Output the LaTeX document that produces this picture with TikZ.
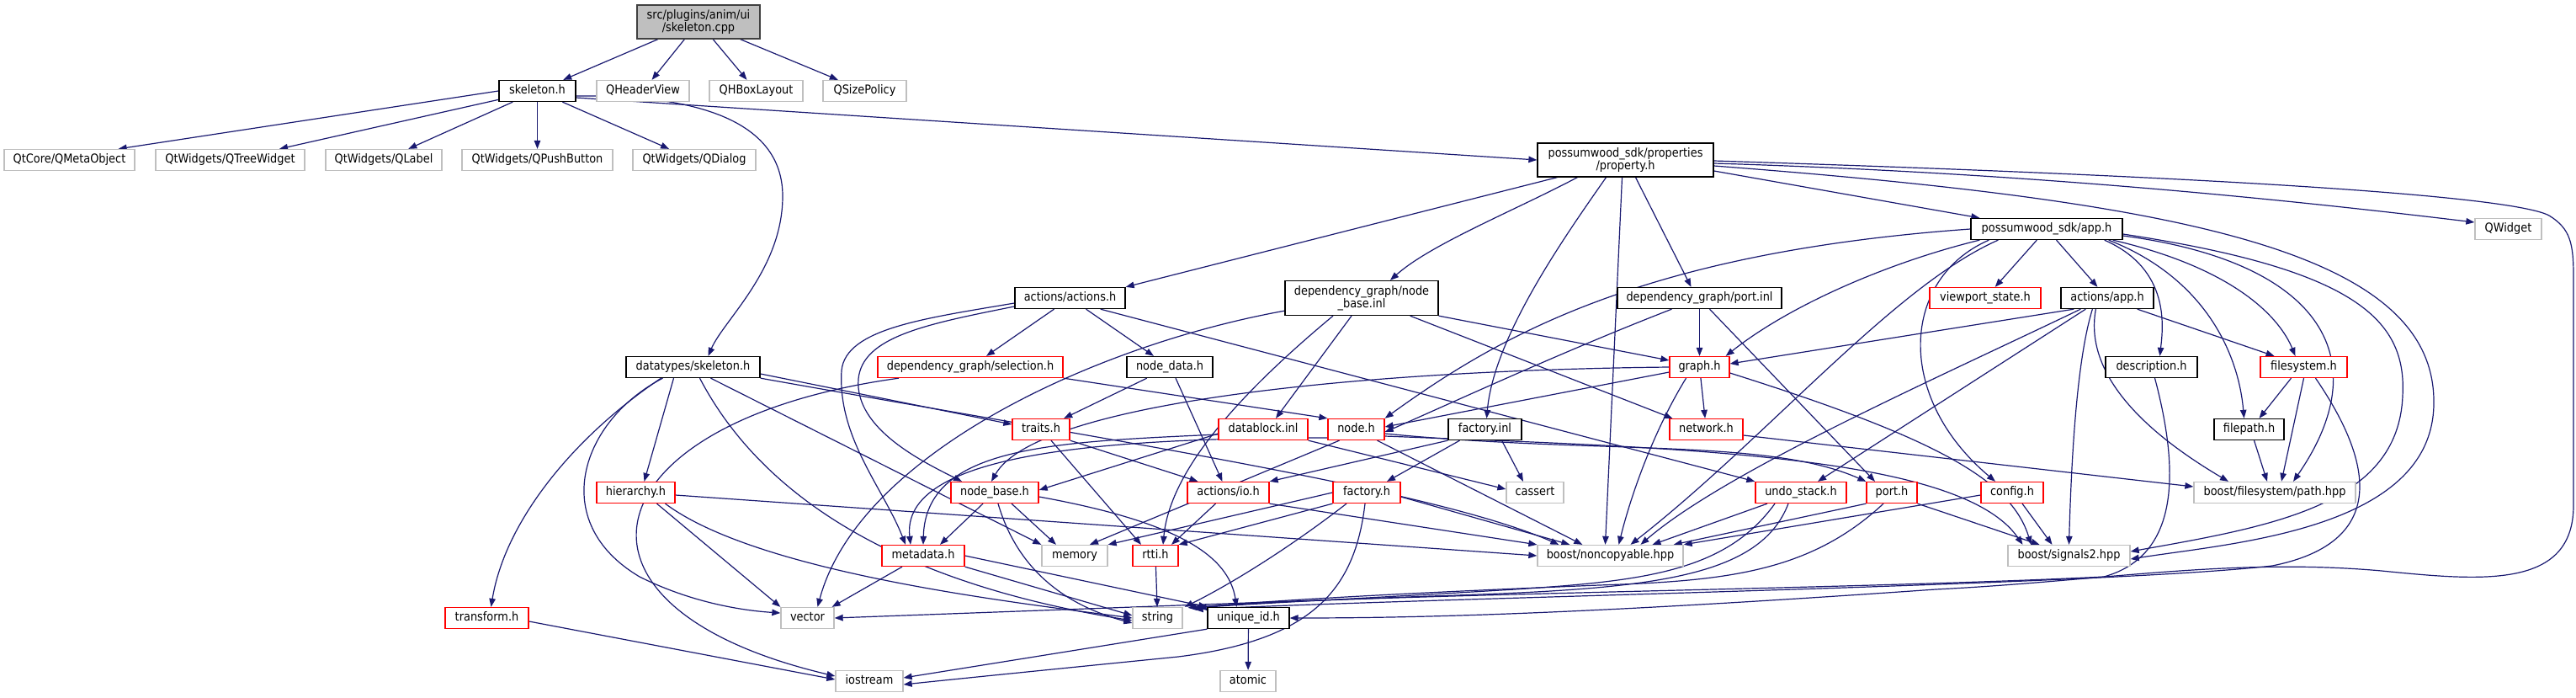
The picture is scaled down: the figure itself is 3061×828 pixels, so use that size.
\documentclass[tikz,border=0pt]{standalone}
\usepackage{fontspec}
\newfontfamily\dgfam{DejaVu Sans}[FakeStretch=0.89]
\newcommand\dgfont{\dgfam\fontsize{14.5}{15.5}\selectfont}
\usetikzlibrary{arrows.meta}
\pgfdeclarelayer{background}
\pgfsetlayers{background,main}
\definecolor{edgec}{HTML}{191970}
\definecolor{extc}{HTML}{BFBFBF}
\definecolor{redc}{HTML}{FF0000}
\definecolor{rootfill}{HTML}{BFBFBF}
\definecolor{rootc}{HTML}{404040}
\begin{document}
\begin{tikzpicture}[x=1pt,y=-1pt,
  box/.style={draw, line width=1.3pt, fill=white, inner sep=0pt, minimum height=25pt, text height=10.5pt, text depth=3.5pt, font=\dgfont},
  tbox/.style={draw, line width=1.3pt, fill=white, inner sep=0pt, minimum height=40pt, align=center, font=\dgfont},
  blk/.style={box, draw=black},
  trunc/.style={box, draw=redc},
  ext/.style={box, draw=extc},
  dep/.style={draw=edgec, line width=1.2pt, -{Triangle[length=10pt,width=7.5pt]}}]
\useasboundingbox (0,0) rectangle (3061,828);
% row 0
\node[tbox, draw=rootc, fill=rootfill, minimum width=146pt] (cpp) at (830,26) {src/plugins/anim/ui\\/skeleton.cpp};
% row 1
\node[blk, minimum width=91pt] (skelh) at (638.5,108) {skeleton.h};
\node[ext, minimum width=110pt] (qheader) at (764,108) {QHeaderView};
\node[ext, minimum width=111pt] (qhbox) at (898.5,108) {QHBoxLayout};
\node[ext, minimum width=99pt] (qsize) at (1027.5,108) {QSizePolicy};
% row 2
\node[ext, minimum width=155pt] (qmeta) at (82.5,190) {QtCore/QMetaObject};
\node[ext, minimum width=177pt] (qtree) at (273.5,190) {QtWidgets/QTreeWidget};
\node[ext, minimum width=138pt] (qlabel) at (456,190) {QtWidgets/QLabel};
\node[ext, minimum width=179pt] (qpush) at (638.5,190) {QtWidgets/QPushButton};
\node[ext, minimum width=146pt] (qdialog) at (825,190) {QtWidgets/QDialog};
\node[tbox, draw=black, minimum width=209pt] (property) at (1931.5,190) {possumwood\_sdk/properties\\/property.h};
% row 3
\node[blk, minimum width=180pt] (apph) at (2432,272) {possumwood\_sdk/app.h};
\node[ext, minimum width=79pt] (qwidget) at (2980.5,272) {QWidget};
% row 4
\node[blk, minimum width=131pt] (actions) at (1271.5,354) {actions/actions.h};
\node[tbox, draw=black, minimum width=182pt, minimum height=41pt] (nbinl) at (1618,354) {dependency\_graph/node\\\_base.inl};
\node[blk, minimum width=195pt] (portinl) at (2019.5,354) {dependency\_graph/port.inl};
\node[trunc, minimum width=132pt] (viewport) at (2359,354) {viewport\_state.h};
\node[blk, minimum width=110pt] (actapp) at (2504,354) {actions/app.h};
% row 5
\node[blk, minimum width=159pt] (dtskel) at (823.5,436) {datatypes/skeleton.h};
\node[trunc, minimum width=220pt] (selection) at (1153,436) {dependency\_graph/selection.h};
\node[blk, minimum width=102pt] (nodedata) at (1390,436) {node\_data.h};
\node[trunc, minimum width=71pt] (graph) at (2019.5,436) {graph.h};
\node[blk, minimum width=109pt] (description) at (2556.5,436) {description.h};
\node[trunc, minimum width=103pt] (filesystem) at (2737.5,436) {filesystem.h};
% row 6
\node[trunc, minimum width=68pt] (traits) at (1237,510) {traits.h};
\node[trunc, minimum width=106pt] (datablock) at (1501,510) {datablock.inl};
\node[trunc, minimum width=67pt] (node) at (1611.5,510) {node.h};
\node[blk, minimum width=87pt] (factinl) at (1764.5,510) {factory.inl};
\node[trunc, minimum width=87pt] (network) at (2027.5,510) {network.h};
\node[blk, minimum width=83pt] (filepath) at (2672.5,510) {filepath.h};
% row 7
\node[trunc, minimum width=93pt] (hierarchy) at (755.5,585) {hierarchy.h};
\node[trunc, minimum width=104pt] (nodebase) at (1182,585) {node\_base.h};
\node[trunc, minimum width=97pt] (io) at (1459.5,585) {actions/io.h};
\node[trunc, minimum width=80pt] (facth) at (1624,585) {factory.h};
\node[ext, minimum width=68pt] (cassert) at (1824,585) {cassert};
\node[trunc, minimum width=108pt] (undo) at (2140,585) {undo\_stack.h};
\node[trunc, minimum width=60pt] (port) at (2248,585) {port.h};
\node[trunc, minimum width=74pt] (config) at (2391,585) {config.h};
\node[ext, minimum width=192pt] (path) at (2703,585) {boost/filesystem/path.hpp};
% row 8
\node[trunc, minimum width=98pt] (metadata) at (1097,660) {metadata.h};
\node[ext, minimum width=78pt] (memory) at (1277,660) {memory};
\node[trunc, minimum width=54pt] (rtti) at (1373,660) {rtti.h};
\node[ext, minimum width=173pt] (noncopy) at (1913.5,660) {boost/noncopyable.hpp};
\node[ext, minimum width=145pt] (signals) at (2458.5,660) {boost/signals2.hpp};
% row 9
\node[trunc, minimum width=99pt] (transform) at (578.5,734) {transform.h};
\node[ext, minimum width=63pt] (vector) at (959.5,734) {vector};
\node[ext, minimum width=59pt] (string) at (1375.5,734) {string};
\node[blk, minimum width=97pt] (uid) at (1483.5,734) {unique\_id.h};
% row 10
\node[ext, minimum width=80pt] (iostream) at (1033,809) {iostream};
\node[ext, minimum width=66pt] (atomic) at (1483,809) {atomic};

\begin{pgfonlayer}{background}
\draw[dep] (cpp) -- (skelh);
\draw[dep] (cpp) -- (qheader);
\draw[dep] (cpp) -- (qhbox);
\draw[dep] (cpp) -- (qsize);
\draw[dep] (skelh.west) -- ([xshift=-20pt]qmeta.north east);
\draw[dep] (skelh) -- (qtree);
\draw[dep] (skelh) -- (qlabel);
\draw[dep] (skelh) -- (qpush);
\draw[dep] (skelh) -- (qdialog);
\draw[dep] ([yshift=-8pt]skelh.east) -- (property.west);
\draw[dep] ([yshift=-6pt]skelh.east) .. controls (820,112) and (930,140) .. (930,233) .. controls (930,320) and (860,380) .. ([xshift=18pt]dtskel.north);
% property.h
\draw[dep] ([xshift=24pt]property.south west) -- (actions.north east);
\draw[dep] ([xshift=48pt]property.south west) .. controls (1800,250) and (1700,290) .. ([xshift=34pt]nbinl.north);
\draw[dep] ([xshift=-23pt]property.south) .. controls (1860,280) and (1775,400) .. ([xshift=2pt]factinl.north);
\draw[dep] ([xshift=-4pt]property.south) -- ([xshift=-6pt]noncopy.north);
\draw[dep] ([xshift=12pt]property.south) -- ([xshift=-10pt]portinl.north);
\draw[dep] ([yshift=-13pt]property.east) -- ([xshift=11pt]apph.north west);
\draw[dep] ([yshift=-4pt]property.east) .. controls (2400,205) and (2700,235) .. ([yshift=8pt]qwidget.west);
\draw[dep] ([yshift=-1pt]property.east) .. controls (2700,212) and (2990,235) .. (3029,256) .. controls (3055,272) and (3058,290) .. (3058,330) -- (3058,600) .. controls (3058,700) and (2950,690) .. (2830,678) .. controls (2650,662) and (2500,690) .. (2300,700) .. controls (1900,728) and (1700,734) .. (uid.east);
\draw[dep] ([yshift=-7pt]property.east) .. controls (2600,240) and (2895,300) .. (2892,480) .. controls (2890,630) and (2650,645) .. ([yshift=-4pt]signals.east);
% app.h
\draw[dep] (apph.west) .. controls (1950,300) and (1780,400) .. (node.north east);
\draw[dep] ([xshift=11pt]apph.south west) .. controls (2250,310) and (2130,360) .. ([xshift=-5pt]graph.north east);
\draw[dep] ([xshift=33pt]apph.south west) .. controls (2250,340) and (2100,520) .. ([xshift=24pt]noncopy.north);
\draw[dep] ([xshift=22pt]apph.south west) .. controls (2260,330) and (2250,470) .. ([xshift=-20pt]config.north);
\draw[dep] (apph) -- (viewport);
\draw[dep] (apph) -- (actapp);
\draw[dep] ([xshift=-22pt]apph.south east) .. controls (2580,320) and (2570,390) .. ([xshift=10pt]description.north);
\draw[dep] ([xshift=-17pt]apph.south east) .. controls (2620,330) and (2660,420) .. ([xshift=-6pt]filepath.north);
\draw[dep] ([xshift=-12pt]apph.south east) .. controls (2660,320) and (2710,380) .. ([xshift=-10pt]filesystem.north);
\draw[dep] ([yshift=-8pt]apph.east) .. controls (2750,310) and (2830,420) .. ([xshift=22pt]path.north);
\draw[dep] ([yshift=-6pt]apph.east) .. controls (2800,320) and (2860,380) .. (2855,470) .. controls (2850,600) and (2700,625) .. ([yshift=5pt]signals.east);
% actions/app.h
\draw[dep] ([xshift=16pt]actapp.south west) -- ([yshift=4pt]graph.east);
\draw[dep] ([xshift=24pt]actapp.south west) .. controls (2300,450) and (2050,560) .. ([xshift=36pt]noncopy.north);
\draw[dep] ([xshift=30pt]actapp.south west) -- ([xshift=20pt]undo.north);
\draw[dep] ([xshift=38pt]actapp.south west) .. controls (2470,420) and (2462,520) .. (signals.north);
\draw[dep] ([xshift=42pt]actapp.south west) .. controls (2475,450) and (2560,520) .. ([xshift=-55pt]path.north);
\draw[dep] ([xshift=-20pt]actapp.south east) -- ([xshift=-35pt]filesystem.north);
% actions/actions.h
\draw[dep] (actions) -- (selection);
\draw[dep] (actions) -- (nodedata);
\draw[dep] ([yshift=-6pt]actions.west) .. controls (1100,378) and (1005,390) .. (1000,440) .. controls (995,520) and (1050,580) .. ([xshift=-21pt]metadata.north);
\draw[dep] ([yshift=-10pt]actions.west) .. controls (1100,385) and (1025,400) .. (1020,450) .. controls (1015,510) and (1100,550) .. ([xshift=-39pt]nodebase.north);
\draw[dep] ([xshift=-30pt]actions.south east) -- (undo.north west);
% node_base.inl
\draw[dep] ([yshift=6pt]nbinl.south west) .. controls (1300,410) and (1020,540) .. ([xshift=12pt]vector.north);
\draw[dep] ([xshift=-34pt]nbinl.south) .. controls (1470,470) and (1390,560) .. ([xshift=9pt]rtti.north);
\draw[dep] ([xshift=-12pt]nbinl.south) -- ([xshift=15pt]datablock.north);
\draw[dep] (nbinl.south east) -- ([yshift=8pt]graph.west);
\draw[dep] ([xshift=-34pt]nbinl.south east) -- ([xshift=4pt]network.north west);
% datatypes/skeleton.h
\draw[dep] ([xshift=-38pt]dtskel.south) .. controls (680,520) and (600,620) .. ([xshift=5pt]transform.north);
\draw[dep] ([xshift=-23pt]dtskel.south) -- ([xshift=10pt]hierarchy.north);
\draw[dep] ([xshift=-36pt]dtskel.south) .. controls (690,500) and (650,620) .. (760,685) .. controls (820,715) and (880,725) .. ([yshift=6pt]vector.west);
\draw[dep] ([yshift=-8pt]dtskel.east) -- ([yshift=6pt]traits.west);
\draw[dep] (dtskel.south east) .. controls (1300,520) and (1700,580) .. ([xshift=26pt]noncopy.north west);
\draw[dep] ([xshift=21pt]dtskel.south) -- (memory.north west);
\draw[dep] ([xshift=8pt]dtskel.south) .. controls (900,580) and (1050,690) .. ([yshift=-3pt]string.west);
% selection.h
\draw[dep] (selection.south east) -- (node.north west);
\draw[dep] ([xshift=-85pt]selection.south) .. controls (700,500) and (640,720) .. ([yshift=6pt]iostream.west);
% node_data.h, traits.h, datablock.inl
\draw[dep] (nodedata) -- (traits);
\draw[dep] ([xshift=7pt]nodedata.south) -- ([xshift=-7pt]io.north);
\draw[dep] (traits.south east) -- ([xshift=-36pt]io.north);
\draw[dep] ([xshift=12pt]traits.south) -- ([xshift=-17pt]rtti.north);
\draw[dep] ([yshift=-5pt]datablock.west) -- ([yshift=3pt]nodebase.east);
\draw[dep] ([yshift=-6pt]datablock.west) .. controls (1250,525) and (1100,530) .. (metadata.north);
\draw[dep] (datablock.south east) -- ([yshift=4pt]cassert.west);
% node.h
\draw[dep] ([yshift=-10pt]node.west) .. controls (1300,520) and (1070,540) .. ([xshift=-15pt]metadata.north);
\draw[dep] ([xshift=-20pt]node.south) -- ([xshift=18pt]memory.north);
\draw[dep] ([yshift=-5pt]node.east) .. controls (1900,540) and (2100,520) .. (port.north west);
\draw[dep] ([yshift=-8pt]node.east) .. controls (2000,532) and (2330,540) .. ([xshift=-55pt]signals.north);
\draw[dep] ([xshift=25pt]node.south) -- ([xshift=54pt]noncopy.north west);
% factory.inl, factory.h
\draw[dep] ([xshift=-30pt]factinl.south) -- ([xshift=24pt]facth.north);
\draw[dep] ([xshift=20pt]factinl.south) -- ([xshift=-14pt]cassert.north);
\draw[dep] (factinl.south west) -- (io.north east);
\draw[dep] ([yshift=-5pt]facth.east) -- ([xshift=39pt]noncopy.north west);
\draw[dep] (facth.west) -- (memory.north east);
\draw[dep] (facth.south west) -- (rtti.north east);
\draw[dep] ([xshift=-24pt]facth.south) .. controls (1520,660) and (1450,700) .. ([xshift=2pt]string.north east);
\draw[dep] ([xshift=-2pt]facth.south) .. controls (1610,700) and (1560,760) .. (1400,780) .. controls (1250,795) and (1150,805) .. ([yshift=-4pt]iostream.east);
% network.h
\draw[dep] ([yshift=-7pt]network.east) -- ([yshift=7pt]path.west);
% undo_stack.h
\draw[dep] ([xshift=-40pt]undo.south) -- ([xshift=50pt]noncopy.north);
\draw[dep] ([xshift=-31pt]undo.south) .. controls (2050,680) and (1950,690) .. (1800,700) .. controls (1600,712) and (1500,716) .. ([xshift=18pt,yshift=-1pt]string.north east);
\draw[dep] ([xshift=-15pt]undo.south) .. controls (2090,690) and (1950,700) .. (1700,708) -- (vector.east);
% port.h
\draw[dep] (port.south west) -- ([xshift=-12pt]noncopy.north east);
\draw[dep] ([xshift=-10pt]port.south) .. controls (2150,680) and (2050,690) .. (1900,695) .. controls (1650,705) and (1500,714) .. ([xshift=12pt,yshift=-1pt]string.north east);
\draw[dep] (port.south east) -- ([xshift=-35pt]signals.north);
% config.h
\draw[dep] ([yshift=-3pt]config.west) -- (noncopy.north east);
\draw[dep] ([xshift=12pt]config.south) -- ([xshift=-20pt]signals.north);
% description.h, filesystem.h, filepath.h
\draw[dep] ([xshift=4pt]description.south) .. controls (2590,560) and (2590,660) .. (2500,685) .. controls (2200,700) and (1600,706) .. ([xshift=6pt,yshift=-1pt]string.north east);
\draw[dep] ([xshift=-15pt]filesystem.south) -- ([xshift=12pt]filepath.north);
\draw[dep] (filesystem.south) -- ([xshift=8pt]path.north);
\draw[dep] ([xshift=14pt]filesystem.south) .. controls (2800,520) and (2860,640) .. (2700,672) .. controls (2500,695) and (1700,710) .. ([xshift=14pt,yshift=-3pt]string.north east);
\draw[dep] ([xshift=6pt]filepath.south) -- ([xshift=-9pt]path.north);
% node_base.h
\draw[dep] ([xshift=-14pt]nodebase.south) -- ([xshift=20pt]metadata.north);
\draw[dep] ([xshift=20pt]nodebase.south) -- ([xshift=-22pt]memory.north);
\draw[dep] ([xshift=4pt]nodebase.south) .. controls (1210,680) and (1270,720) .. ([yshift=-6pt]string.west);
\draw[dep] ([yshift=-5pt]nodebase.east) .. controls (1400,620) and (1460,660) .. ([xshift=-14pt]uid.north);
% actions/io.h
\draw[dep] ([xshift=-15pt]io.south) -- ([xshift=19pt]rtti.north);
\draw[dep] (io.south east) -- (noncopy.north west);
% metadata.h, rtti.h, unique_id.h, transform.h
\draw[dep] ([xshift=-25pt]metadata.south) -- ([xshift=-3pt]vector.north east);
\draw[dep] (metadata.south east) -- ([yshift=3pt]string.west);
\draw[dep] (metadata.east) -- (uid.north west);
\draw[dep] (rtti) -- (string);
\draw[dep] (uid.south west) -- ([yshift=4pt]iostream.east);
\draw[dep] (uid) -- (atomic);
\draw[dep] ([yshift=-4pt]transform.east) -- ([yshift=2pt]iostream.west);
% hierarchy.h
\draw[dep] ([yshift=-3pt]hierarchy.east) -- (noncopy.west);
\draw[dep] ([xshift=25pt]hierarchy.south) -- (vector.north west);
\draw[dep] ([xshift=35pt]hierarchy.south) .. controls (900,680) and (1200,715) .. (string.west);
% graph.h
\draw[dep] (graph.west) .. controls (1600,440) and (1230,480) .. ([xshift=-4pt]nodebase.north);
\draw[dep] ([yshift=-6pt]graph.west) -- ([yshift=3pt]node.east);
\draw[dep] ([xshift=-16pt]graph.south) .. controls (1960,520) and (1935,600) .. ([xshift=10pt]noncopy.north);
\draw[dep] (graph) -- (network);
\draw[dep] ([yshift=-7pt]graph.east) .. controls (2300,520) and (2390,570) .. ([xshift=-45pt]signals.north);
% port.inl
\draw[dep] (portinl) -- (graph);
\draw[dep] ([xshift=-33pt]portinl.south) .. controls (1850,420) and (1700,490) .. ([yshift=-3pt]node.east);
\draw[dep] ([xshift=12pt]portinl.south) -- ([xshift=-20pt]port.north);
\end{pgfonlayer}
\end{tikzpicture}
\end{document}
